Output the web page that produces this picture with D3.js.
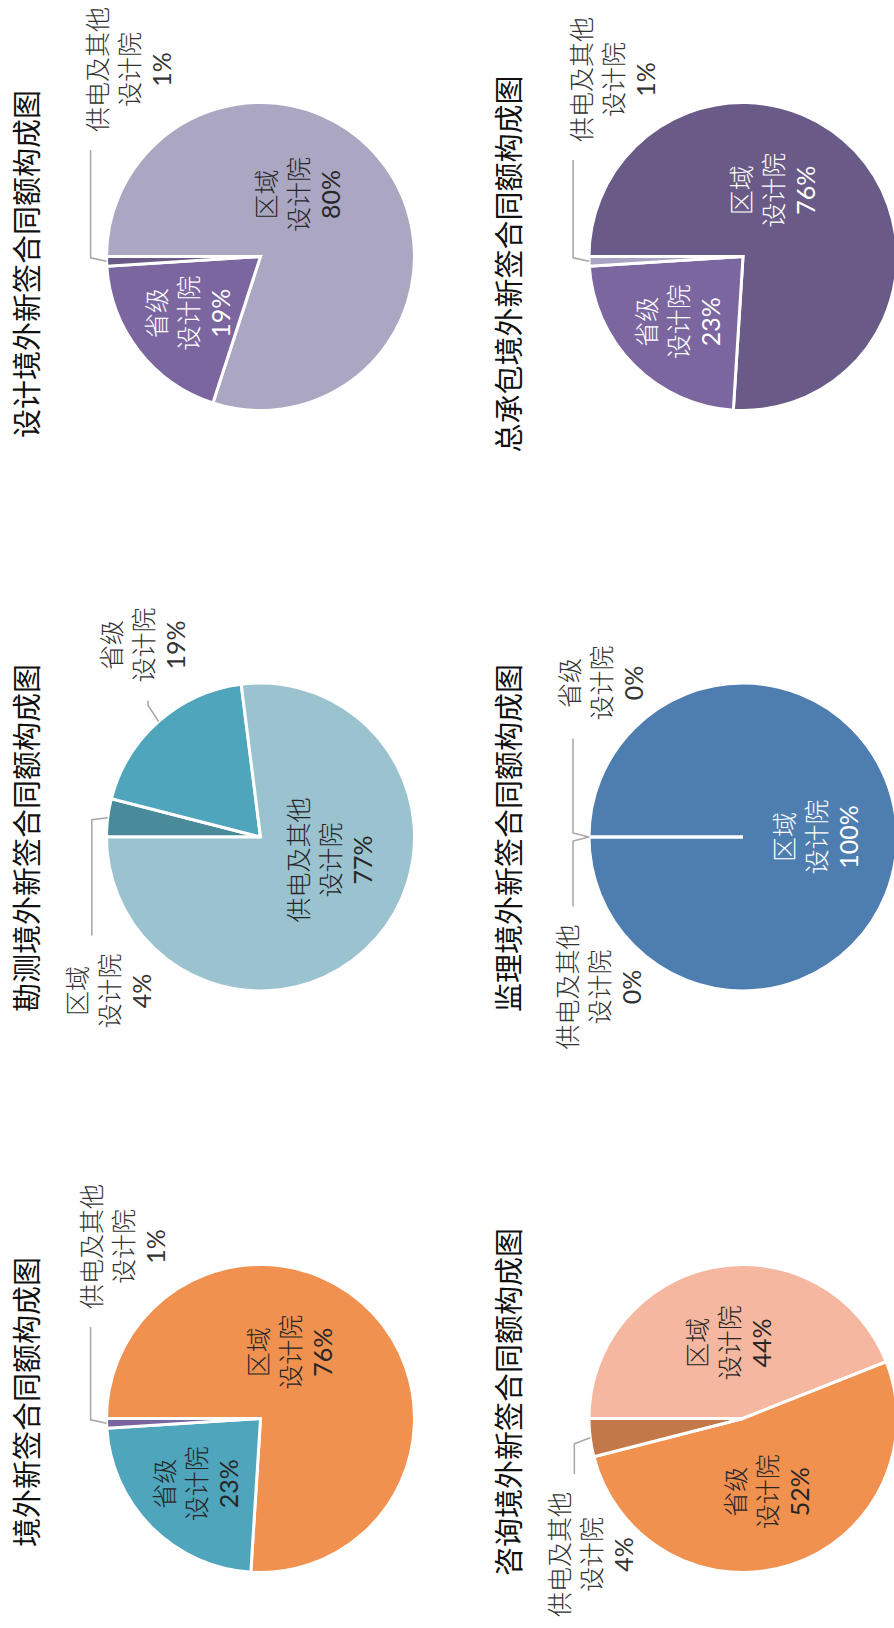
<!DOCTYPE html>
<html>
<head>
<meta charset="utf-8">
<script src="https://cdn.jsdelivr.net/npm/d3@7"></script>
<style>
  html, body { margin: 0; padding: 0; background: #fff; }
  svg { display: block; }
</style>
</head>
<body>
<div id="chart"></div>
<script>
// 图表数据（百分比）
const titles = [
  "境外新签合同额构成图",
  "勘测境外新签合同额构成图",
  "设计境外新签合同额构成图",
  "咨询境外新签合同额构成图",
  "监理境外新签合同额构成图",
  "总承包境外新签合同额构成图"
];
const sliceNames = ["区域", "省级", "供电及其他"];
const sliceSub = "设计院";

const jingwaiShare = [76, 23, 1];
const kanceShare = [4, 19, 77];
const shejiShare = [80, 19, 1];
const zixunShare = [44, 52, 4];
const jianliShare = [100, 0, 0];
const zongchengbaoShare = [76, 23, 1];

const shares = [jingwaiShare, kanceShare, shejiShare, zixunShare, jianliShare, zongchengbaoShare];

// 配色
const palettes = [
  ["#F0914F", "#4FA5BB", "#7B65A0"],
  ["#4A8B9B", "#4FA5BB", "#9AC3CF"],
  ["#ABA6C1", "#7B66A0", "#6A5A88"],
  ["#F5B7A0", "#F0914F", "#C27848"],
  ["#4E7DB0", "#4E7DB0", "#4E7DB0"],
  ["#695A87", "#7B66A0", "#A9A4C4"]
];

// 布局（横向画布，整体旋转后放进竖向页面）
const W = 1628, H = 894;
const colX = [209.5, 791, 1371.5];
const rowY = [260.5, 743];
const titleX = [226, 790, 1364];
const titleBaseline = [37.5, 520];
const radius = 154;
const lineGap = 32;

// 外部标签相对饼心的位置
const outsideLabelOffset = {
  "0-2": [172, -138],
  "1-0": [-154, -152],
  "1-1": [192, -118],
  "2-2": [187, -132],
  "3-2": [-136, -153],
  "4-1": [154, -143],
  "4-2": [-150, -145],
  "5-2": [177, -131]
};

const svg = d3.select("#chart").append("svg")
  .attr("width", H)
  .attr("height", W);

const root = svg.append("g")
  .attr("transform", `translate(0,${W}) rotate(-90)`);

const pie = d3.pie().sort(null).value(d => d.value);
const arc = d3.arc().innerRadius(0).outerRadius(radius);

const cjk = "'Noto Sans CJK SC', 'Noto Sans', sans-serif";
const labelFont = "Lato, 'Noto Sans CJK SC', sans-serif";

function polar(r, a) {
  return [r * Math.sin(a), -r * Math.cos(a)];
}

function textColor(fill) {
  const c = d3.rgb(fill);
  const lum = (0.299 * c.r + 0.587 * c.g + 0.114 * c.b) / 255;
  return lum < 0.5 ? "#ffffff" : "#262626";
}

function drawLabel(g, x, y, name, pct, color) {
  const t = g.append("text")
    .attr("text-anchor", "middle")
    .style("font-family", labelFont)
    .style("font-size", "25px")
    .style("font-weight", 300)
    .attr("fill", color);
  const lines = [name, sliceSub, pct + "%"];
  lines.forEach((s, i) => {
    t.append("tspan")
      .attr("x", x)
      .attr("y", y - 21.5 + i * lineGap)
      .style("font-weight", i === 2 ? 400 : 300)
      .text(s);
  });
}

shares.forEach((vals, ci) => {
  const col = ci % 3, row = Math.floor(ci / 3);
  const cx = colX[col], cy = rowY[row];
  const data = vals.map((v, i) => ({ name: sliceNames[i], value: v, idx: i }));
  const arcs = pie(data);
  const colors = palettes[ci];

  root.append("text")
    .attr("x", titleX[col])
    .attr("y", titleBaseline[row])
    .attr("text-anchor", "middle")
    .style("font-family", cjk)
    .style("font-size", "29px")
    .style("font-weight", 400)
    .attr("fill", "#111111")
    .text(titles[ci]);

  const g = root.append("g").attr("transform", `translate(${cx},${cy})`);

  g.selectAll("path.slice")
    .data(arcs)
    .join("path")
    .attr("class", "slice")
    .attr("d", arc)
    .attr("fill", d => colors[d.data.idx])
    .attr("stroke", "#ffffff")
    .attr("stroke-width", 3)
    .attr("stroke-linejoin", "miter");

  const total = d3.sum(vals);
  arcs.forEach(d => {
    const frac = d.data.value / total;
    const mid = (d.startAngle + d.endAngle) / 2;
    const off = outsideLabelOffset[ci + "-" + d.data.idx];
    if (!off) {
      let a = mid;
      let r = radius * 0.5;
      if (frac > 0.6 && frac < 0.99) { a = mid - 0.4; r = radius * 0.47; }
      else if (frac >= 0.99) { r = radius * 0.47; }
      else if (frac < 0.3) { r = radius * 0.6; }
      const [lx, ly] = polar(r, a);
      drawLabel(g, lx, ly, d.data.name, d.data.value, textColor(colors[d.data.idx]));
    } else {
      const side = off[0] > 0 ? 1 : -1;
      const pA = polar(radius, mid);
      const pB = polar(radius + 16, mid);
      pB[0] += side * 4;
      const maxChars = Math.max(d.data.name.length, sliceSub.length);
      const pC = [off[0] - side * (maxChars * 25 / 2 + 18), pB[1]];
      g.append("path")
        .attr("d", d3.line()([pA, pB, pC]))
        .attr("fill", "none")
        .attr("stroke", "#a6a6a6")
        .attr("stroke-width", 1.5);
      drawLabel(g, off[0], off[1], d.data.name, d.data.value, "#333333");
    }
  });
});
</script>
</body>
</html>
